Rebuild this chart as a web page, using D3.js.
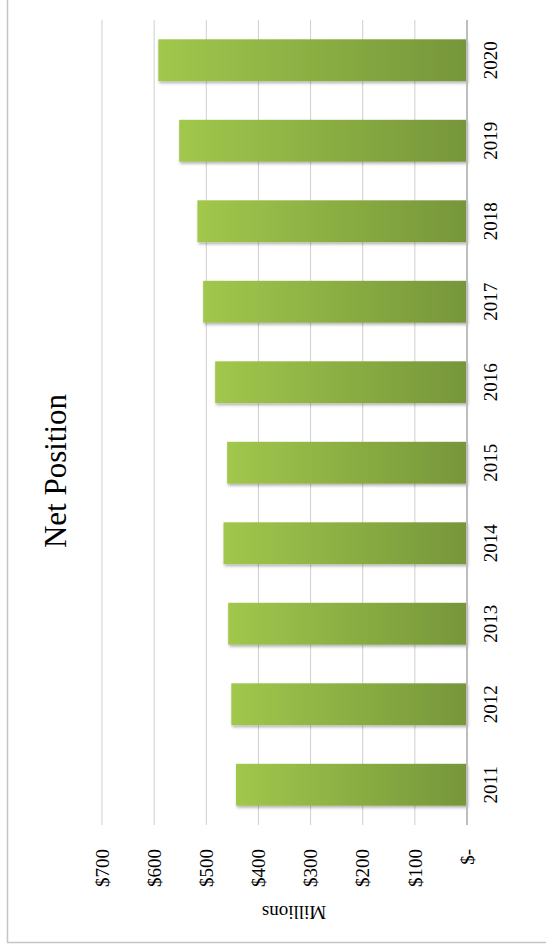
<!DOCTYPE html>
<html>
<head>
<meta charset="utf-8">
<script src="https://cdn.jsdelivr.net/npm/d3@7"></script>
<style>
  body { margin: 0; background: #fff; }
  svg text { font-family: "Liberation Serif", "DejaVu Serif", serif; fill: #000; }
</style>
</head>
<body>
<script>
// chart data (millions of dollars)
var years = ["2011","2012","2013","2014","2015","2016","2017","2018","2019","2020"];
var netPosition = [443, 452, 458, 467, 460, 483, 506, 517, 552, 592];
var tickValues = [0, 100, 200, 300, 400, 500, 600, 700];
var tickLabels = ["$-", "$100", "$200", "$300", "$400", "$500", "$600", "$700"];

var w = 546, h = 946;
var svg = d3.select("body").append("svg")
  .attr("width", w)
  .attr("height", h);

var defs = svg.append("defs");
var grad = defs.append("linearGradient")
  .attr("id", "barGrad")
  .attr("x1", 0).attr("x2", 1).attr("y1", 0).attr("y2", 0);
grad.append("stop").attr("offset", "0%").attr("stop-color", "#a1c74c");
grad.append("stop").attr("offset", "100%").attr("stop-color", "#76963a");

var shadow = defs.append("filter").attr("id", "shadow")
  .attr("x", "-10%").attr("y", "-20%").attr("width", "130%").attr("height", "160%");
shadow.append("feDropShadow")
  .attr("dx", 1).attr("dy", 2).attr("stdDeviation", 1.6)
  .attr("flood-color", "#000").attr("flood-opacity", 0.3);

// outer frame
svg.append("rect")
  .attr("x", 7.5).attr("y", -10)
  .attr("width", 600).attr("height", 952.5)
  .attr("fill", "none")
  .attr("stroke", "#c4c4c4")
  .attr("stroke-width", 1.5);

// scales (chart is drawn rotated: value runs right-to-left)
var x = d3.scaleLinear().domain([0, 700]).range([467, 102]);
var y = d3.scaleBand()
  .domain(years.slice().reverse())
  .range([20, 825])
  .paddingInner(0.48)
  .paddingOuter(0.24);

// gridlines
svg.append("g").selectAll("line")
  .data(tickValues.filter(function(d){ return d > 0; }))
  .join("line")
  .attr("x1", function(d){ return x(d); })
  .attr("x2", function(d){ return x(d); })
  .attr("y1", 20).attr("y2", 825)
  .attr("stroke", "#cfcfcf")
  .attr("stroke-width", 1);

// bars
svg.append("g").selectAll("rect")
  .data(years)
  .join("rect")
  .attr("x", function(d, i){ return x(netPosition[i]); })
  .attr("y", function(d){ return y(d); })
  .attr("width", function(d, i){ return x(0) - x(netPosition[i]); })
  .attr("height", y.bandwidth())
  .attr("fill", "url(#barGrad)")
  .attr("filter", "url(#shadow)");

// zero axis line
svg.append("line")
  .attr("x1", x(0)).attr("x2", x(0))
  .attr("y1", 20).attr("y2", 825)
  .attr("stroke", "#bdbdbd")
  .attr("stroke-width", 2);

// value tick labels
svg.append("g").selectAll("text")
  .data(tickValues)
  .join("text")
  .attr("transform", function(d){ return "translate(" + x(d) + ",849) rotate(-90)"; })
  .attr("text-anchor", "end")
  .attr("dy", "0.35em")
  .style("font-size", "19px")
  .text(function(d, i){ return tickLabels[i]; });

// year labels
svg.append("g").selectAll("text")
  .data(years)
  .join("text")
  .attr("transform", function(d){ return "translate(490," + (y(d) + y.bandwidth() / 2) + ") rotate(-90)"; })
  .attr("text-anchor", "middle")
  .attr("dy", "0.35em")
  .style("font-size", "19px")
  .text(function(d){ return d; });

// axis title
svg.append("text")
  .attr("transform", "translate(294,913) rotate(180)")
  .attr("text-anchor", "middle")
  .attr("dy", "0.35em")
  .style("font-size", "19px")
  .text("Millions");

// chart title
svg.append("text")
  .attr("transform", "translate(55,471) rotate(-90)")
  .attr("text-anchor", "middle")
  .attr("dy", "0.35em")
  .style("font-size", "31px")
  .text("Net Position");
</script>
</body>
</html>
